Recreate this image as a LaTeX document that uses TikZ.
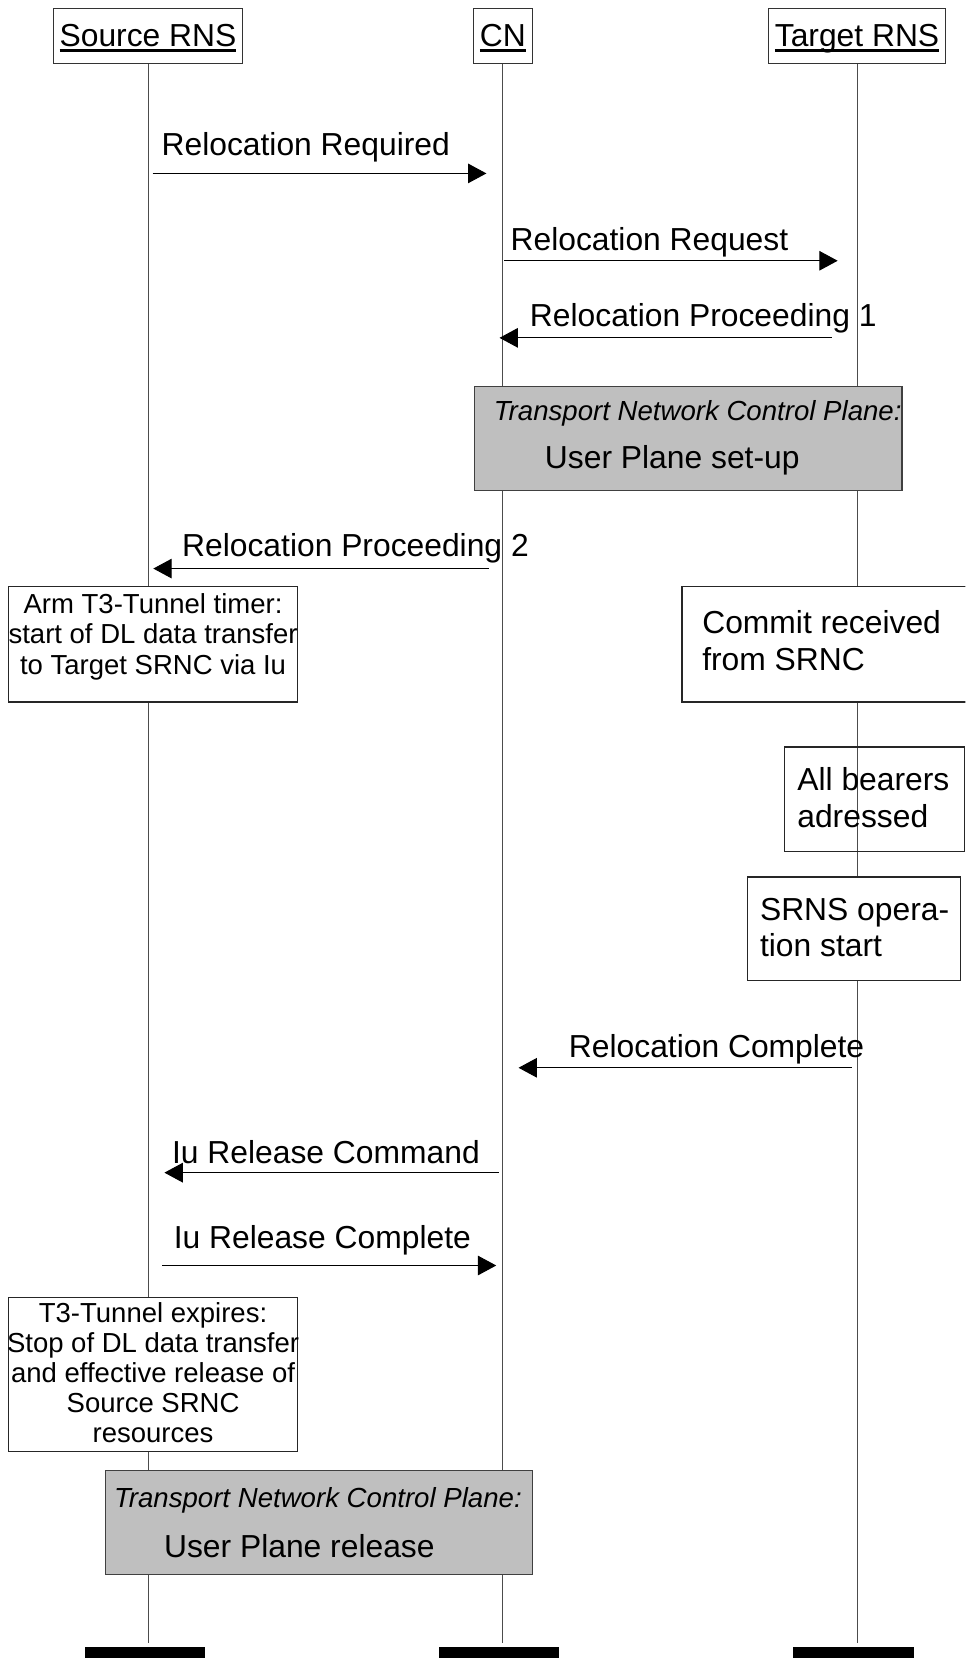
\documentclass[tikz,border=0pt]{standalone}
\usepackage{fontspec}
\setmainfont{Liberation Sans}
\usetikzlibrary{arrows.meta,positioning,fit}

\newcommand{\msgsize}{\fontsize{15.9}{18.3}\selectfont}
\newcommand{\notesize}{\fontsize{13.75}{15.06}\selectfont}
\newcommand{\headul}[1]{\setbox0\hbox{#1}\rlap{\rule[-2.6pt]{\wd0}{1.5pt}}\box0}

\tikzset{
  head/.style={draw=black!80, fill=white, line width=0.6pt, inner xsep=3.2pt,
    minimum height=27.5pt, text height=14.5pt, text depth=4pt, font=\msgsize},
  life/.style={black!70, line width=0.5pt},
  msg/.style={-{Triangle[length=9.2pt,width=9.8pt]}, line width=0.5pt},
  lbl/.style={anchor=base west, inner sep=0pt, font=\msgsize},
  note/.style={draw=black!85, fill=white, line width=0.6pt, inner sep=0pt},
  plane/.style={draw=black!75, fill=black!25, line width=0.7pt, inner sep=0pt},
  endbar/.style={fill=black, inner sep=0pt},
}

\begin{document}
\begin{tikzpicture}[x=0.5285pt, y=-0.5285pt]
    \useasboundingbox (0,0) rectangle (913,1568);
    \clip (0,0) rectangle (913,1568);

    % entities
    \node[head] (src) at (140,34) {\headul{Source RNS}};
    \node[head] (cn) at (475.5,34) {\headul{CN}};
    \node[head] (tgt) at (810.5,34) {\headul{Target RNS}};

    % lifelines and end bars
    \foreach \n/\x/\b in {src/140/137.4, cn/475.5/471.8, tgt/810.5/807.2} {
    \coordinate (\n-end) at (\x,1553.5);
    \draw[life] (\n.south) -- (\n-end);
    \node[endbar, minimum width=60.1pt, minimum height=8pt, anchor=north] (\n-bar) at (\b,1557) {};
    }

    % messages
    \foreach \i/\xa/\xb/\y/\lx/\ly/\txt in {
    1/144.4/460/164/152.5/146.6/Relocation Required,
    2/476.8/792.2/246.6/482.5/236.5/Relocation Request,
    3/786.8/472.4/319.5/500.8/309/Relocation Proceeding 1,
    4/462/145/537.7/171.9/526.7/Relocation Proceeding 2,
    5/805.7/490.4/1009.8/537.7/999.7/Relocation Complete,
    6/471.5/155.5/1109/162.4/1100.6/Iu Release Command,
    7/153.6/469.3/1196.8/164/1181/Iu Release Complete} {
    \coordinate (m\i a) at (\xa,\y);
    \coordinate (m\i b) at (\xb,\y);
    \draw[msg] (m\i a) -- (m\i b);
    \node[lbl] (m\i) at (\lx,\ly) {\txt};
    }

    % transport network control plane boxes
    \node[plane, fit={(449,365.5) (853,464)}] (tncp1) {};
    \begin{scope}
    \clip (tncp1.south west) rectangle (tncp1.north east);
    \node[lbl, font=\fontsize{13.8}{15}\selectfont\itshape] (tncp1a) at (466.7,397.4) {Transport Network Control Plane:};
    \end{scope}
    \node[lbl] (tncp1b) at (515,443) {User Plane set-up};

    \node[plane, fit={(99.7,1390.7) (503.4,1489)}] (tncp2) {};
    \node[lbl, font=\fontsize{13.8}{15}\selectfont\itshape] (tncp2a) at (107.5,1425.4) {Transport Network Control Plane:};
    \node[lbl] (tncp2b) at (154.8,1472.7) {User Plane release};

    % notes at source RNS
    \node[note, fit={(7.9,554.4) (281.6,663.8)}] (arm) {};
    \node[anchor=north, inner sep=0pt, align=center, font=\notesize] (armtxt) at (144.75,561.3)
    {Arm T3-Tunnel timer:\\start of DL data transfer\\to Target SRNC via Iu};

    \node[note, fit={(7.9,1226.7) (281.6,1372.4)}] (expire) {};
    \node[anchor=north, inner sep=0pt, align=center, font=\notesize] (expiretxt) at (144.75,1231.4)
    {T3-Tunnel expires:\\Stop of DL data transfer\\and effective release of\\Source SRNC\\resources};

    % notes at target RNS
    \node[note, fit={(644.9,555) (925,663.8)}] (commit) {};
    \node[anchor=north west, inner sep=0pt, align=left, font=\msgsize] (committxt) at (663.8,577.2)
    {Commit received\\from SRNC};

    \node[note, fill=none, fit={(742,706.4) (912,805)}] (bearers) {};
    \node[anchor=north west, inner sep=0pt, align=left, font=\msgsize] (bearerstxt) at (753.7,725.4)
    {All bearers\\adressed};

    \node[note, fit={(707,829.4) (908.2,927.2)}] (srns) {};
    \node[anchor=north west, inner sep=0pt, align=left, font=\msgsize] (srnstxt) at (718.4,848.9)
    {SRNS opera-\\tion start};
\end{tikzpicture}
\end{document}
